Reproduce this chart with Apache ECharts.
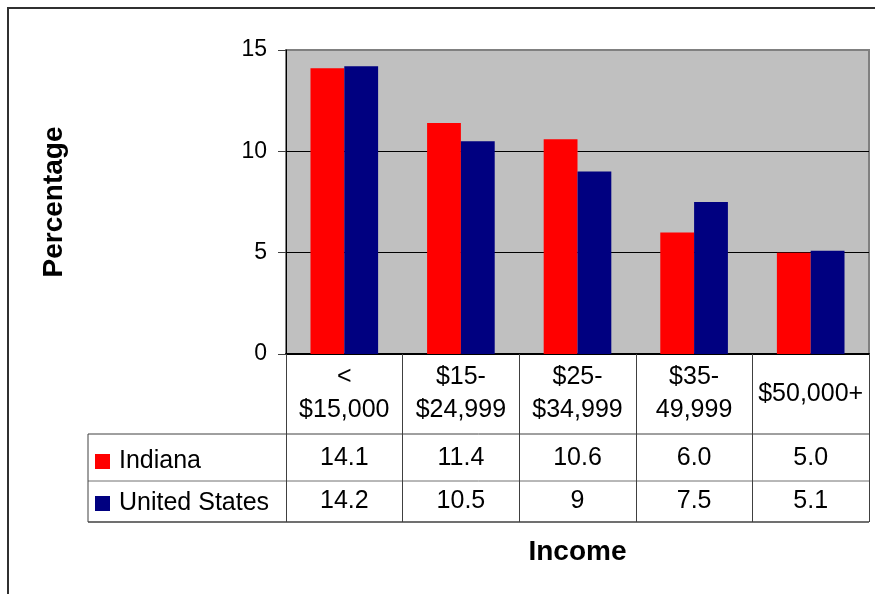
<!DOCTYPE html>
<html>
<head>
<meta charset="utf-8">
<script src="https://cdn.jsdelivr.net/npm/echarts@6/dist/echarts.min.js"></script>
<style>
html,body{margin:0;padding:0;background:#fff;}
#chart{width:875px;height:594px;}
</style>
</head>
<body>
<div id="chart"></div>
<script>
// ---- data ----
const categories = ['<\n$15,000', '$15-\n$24,999', '$25-\n$34,999', '$35-\n49,999', '$50,000+'];
const indiana = [14.1, 11.4, 10.6, 6.0, 5.0];
const unitedStates = [14.2, 10.5, 9, 7.5, 5.1];
const seriesNames = ['Indiana', 'United States'];
const yMin = 0, yMax = 15, yInterval = 5;

// ---- layout ----
const FONT = 'Liberation Sans, Arial, sans-serif';
const W = 875, H = 594;
const gLeft = 286, gTop = 50, gRight = 869, gBottom = 354;
const rowHeader = 434, rowInd = 481, rowUS = 522, tableLeft = 88;

const chart = echarts.init(document.getElementById('chart'), null, {renderer: 'canvas'});

const option = {
  animation: false,
  backgroundColor: '#ffffff',
  textStyle: {fontFamily: FONT},
  grid: {
    left: gLeft, top: gTop, right: W - gRight, bottom: H - gBottom,
    show: true, backgroundColor: '#c0c0c0', borderColor: '#808080', borderWidth: 2,
    containLabel: false
  },
  legend: {
    orient: 'vertical', left: 90, top: 444, itemGap: 17,
    itemWidth: 15, itemHeight: 15, icon: 'rect',
    selectedMode: false,
    textStyle: {fontFamily: FONT, fontSize: 25, color: '#000', padding: [0, 0, 0, 4]},
    data: seriesNames
  },
  xAxis: [
    {
      type: 'category', data: categories, position: 'bottom',
      axisLine: {show: true, lineStyle: {color: '#000', width: 2}},
      axisTick: {show: true, length: rowUS - gBottom, lineStyle: {color: '#404040', width: 1}},
      axisLabel: {
        margin: 40, verticalAlign: 'middle', fontSize: 25, lineHeight: 33,
        color: '#000', fontFamily: FONT, interval: 0
      },
      name: 'Income', nameLocation: 'middle', nameGap: 184,
      nameTextStyle: {fontSize: 28, fontWeight: 'bold', color: '#000', fontFamily: FONT},
      splitLine: {show: false}
    },
    {
      type: 'category', data: categories, position: 'bottom',
      axisLine: {show: false}, axisTick: {show: false}, splitLine: {show: false},
      axisLabel: {
        margin: 104, verticalAlign: 'middle', fontSize: 25, color: '#000', fontFamily: FONT, interval: 0,
        formatter: (v, i) => indiana[i].toFixed(1)
      }
    },
    {
      type: 'category', data: categories, position: 'bottom',
      axisLine: {show: false}, axisTick: {show: false}, splitLine: {show: false},
      axisLabel: {
        margin: 147, verticalAlign: 'middle', fontSize: 25, color: '#000', fontFamily: FONT, interval: 0,
        formatter: (v, i) => String(unitedStates[i])
      }
    }
  ],
  yAxis: {
    type: 'value', min: yMin, max: yMax, interval: yInterval,
    axisLine: {show: true, lineStyle: {color: '#000', width: 1}},
    axisTick: {show: true, length: 8, lineStyle: {color: '#404040'}},
    axisLabel: {fontSize: 23, color: '#000', margin: 19, fontFamily: FONT},
    splitLine: {show: true, lineStyle: {color: ['#000', '#000', '#000', '#808080'], width: 1}},
    name: 'Percentage', nameLocation: 'middle', nameGap: 218, nameRotate: 90,
    nameTextStyle: {fontSize: 28, fontWeight: 'bold', color: '#000', fontFamily: FONT}
  },
  series: [
    {
      name: seriesNames[0], type: 'bar', data: indiana, xAxisIndex: 0,
      itemStyle: {color: '#ff0000'}, barGap: '0%', barCategoryGap: '42%'
    },
    {
      name: seriesNames[1], type: 'bar', data: unitedStates, xAxisIndex: 0,
      itemStyle: {color: '#000080'}, barGap: '0%', barCategoryGap: '42%'
    }
  ],
  graphic: [
    {type: 'rect', shape: {x: 8, y: 8, width: W + 20, height: H + 20}, style: {fill: null, stroke: '#303030', lineWidth: 2}, silent: true, z: 100},
    {type: 'line', shape: {x1: tableLeft, y1: rowHeader, x2: gRight, y2: rowHeader}, style: {stroke: '#404040', lineWidth: 1}, silent: true},
    {type: 'line', shape: {x1: tableLeft, y1: rowInd, x2: gRight, y2: rowInd}, style: {stroke: '#707070', lineWidth: 1}, silent: true},
    {type: 'line', shape: {x1: tableLeft, y1: rowUS, x2: gRight, y2: rowUS}, style: {stroke: '#404040', lineWidth: 1.5}, silent: true},
    {type: 'line', shape: {x1: tableLeft, y1: rowHeader, x2: tableLeft, y2: rowUS}, style: {stroke: '#404040', lineWidth: 1}, silent: true}
  ]
};
chart.setOption(option);
</script>
</body>
</html>
